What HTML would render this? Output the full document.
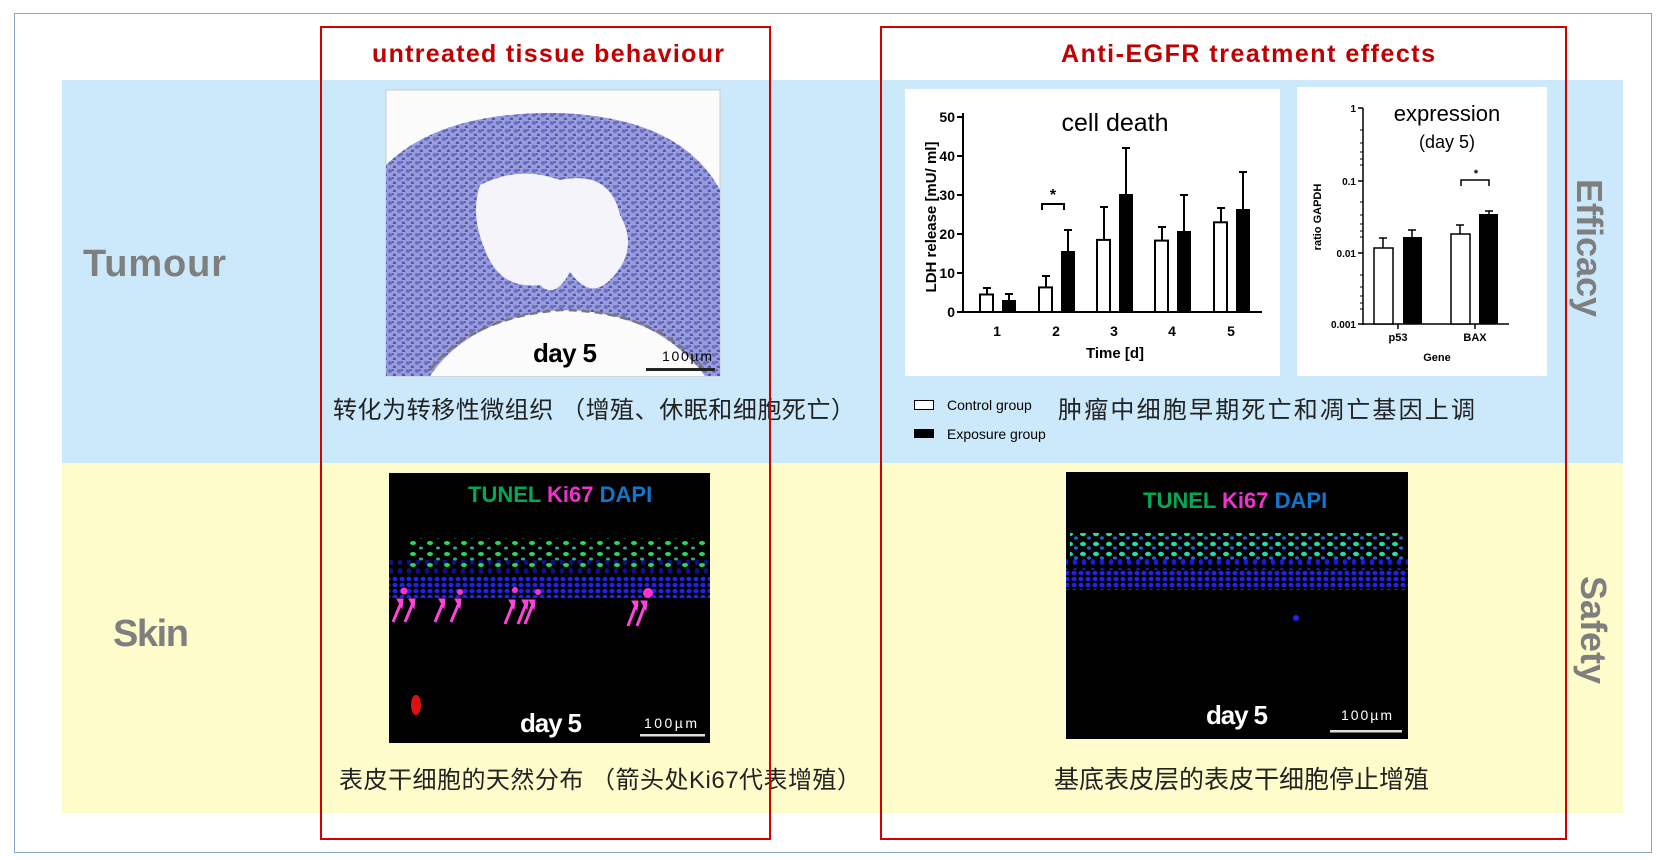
<!DOCTYPE html>
<html><head><meta charset="utf-8"><style>
html,body{margin:0;padding:0;background:#fff;}
svg{display:block;}
</style></head><body>
<svg width="1661" height="860" viewBox="0 0 1661 860" xmlns="http://www.w3.org/2000/svg" font-family="Liberation Sans, Noto Sans CJK SC, sans-serif">
<defs>
<pattern id="cells" width="9" height="8" patternUnits="userSpaceOnUse">
<rect width="9" height="8" fill="#9a9ddb"/>
<ellipse cx="3" cy="3" rx="2.4" ry="2" fill="#6a6ec4"/>
<ellipse cx="7.5" cy="7" rx="1.8" ry="1.5" fill="#5558b0"/>
<circle cx="6" cy="2" r="0.8" fill="#2a2a70"/>
</pattern>
<pattern id="dapi" width="7" height="6" patternUnits="userSpaceOnUse">
<rect width="7" height="6" fill="#000"/>
<ellipse cx="3" cy="3" rx="2.6" ry="2.2" fill="#2222ee"/>
</pattern>
<pattern id="dapi2" width="9" height="9" patternUnits="userSpaceOnUse">
<rect width="9" height="9" fill="#000"/>
<ellipse cx="4" cy="4" rx="2.4" ry="3" fill="#1a1ad8"/>
</pattern>
<pattern id="tunel" width="17" height="11" patternUnits="userSpaceOnUse">
<ellipse cx="5" cy="4" rx="3" ry="2" fill="#22dd55"/>
<ellipse cx="13" cy="9" rx="2" ry="1.5" fill="#33aa88"/>
</pattern>
<pattern id="tunel2" width="13" height="10" patternUnits="userSpaceOnUse">
<ellipse cx="4" cy="4" rx="3" ry="2.2" fill="#22ddaa"/>
<ellipse cx="10" cy="8" rx="2" ry="1.6" fill="#2266dd"/>
</pattern>
</defs>

<rect x="14.5" y="13.5" width="1637" height="839" fill="#fff" stroke="#8aa4c4" stroke-width="1"/>
<rect x="62" y="80" width="1561" height="383" fill="#cce9fb"/>
<rect x="62" y="463" width="1561" height="350" fill="#fffccb"/>

<text x="83" y="276" font-size="38" font-weight="bold" fill="#7f7f7f" textLength="143">Tumour</text>
<text x="113" y="646" font-size="38" font-weight="bold" fill="#7f7f7f" textLength="76">Skin</text>
<text transform="translate(1577,248) rotate(90)" text-anchor="middle" font-size="36" font-weight="bold" fill="#7f7f7f">Efficacy</text>
<text transform="translate(1581,630) rotate(90)" text-anchor="middle" font-size="36" font-weight="bold" fill="#7f7f7f">Safety</text>

<text x="372" y="62" font-size="25" font-weight="bold" fill="#c00000" textLength="352">untreated tissue behaviour</text>
<text x="1061" y="62" font-size="25" font-weight="bold" fill="#c00000" textLength="374">Anti-EGFR treatment effects</text>

<rect x="386" y="90" width="334" height="286" fill="#fbfbfb" stroke="#ccc"/>
<path d="M386,376 L386,165 Q440,112 555,113 Q680,116 720,190 L720,376 Z" fill="url(#cells)"/>
<path d="M480,185 Q520,165 560,180 Q610,170 620,215 Q640,250 610,280 Q590,300 570,272 Q555,300 540,285 Q500,290 485,250 Q470,215 480,185 Z" fill="#f4f4fa"/>
<path d="M430,376 Q470,318 560,310 Q655,310 705,376 Z" fill="#fbfbfb"/>
<path d="M430,370 Q470,318 560,310 Q655,310 705,370" fill="none" stroke="#777" stroke-width="2.5" stroke-dasharray="8,5"/>
<text x="533" y="362" font-size="26" font-weight="bold" fill="#000" textLength="64">day 5</text>
<text x="662" y="361" font-size="14" fill="#000" textLength="50">100µm</text>
<rect x="646" y="368" width="69" height="3" fill="#222"/>

<text x="333" y="418" font-size="24" fill="#222" textLength="522">转化为转移性微组织 （增殖、休眠和细胞死亡）</text>

<rect x="905" y="89" width="375" height="287" fill="#fff"/>
<g font-weight="bold" font-size="14" fill="#000">
<line x1="963" y1="113" x2="963" y2="313" stroke="#000" stroke-width="2"/>
<line x1="962" y1="312" x2="1262" y2="312" stroke="#000" stroke-width="2"/>
<g stroke="#000" stroke-width="2">
<line x1="957" y1="117" x2="963" y2="117"/><line x1="957" y1="156" x2="963" y2="156"/><line x1="957" y1="195" x2="963" y2="195"/><line x1="957" y1="234" x2="963" y2="234"/><line x1="957" y1="273" x2="963" y2="273"/><line x1="957" y1="312" x2="963" y2="312"/>
</g>
<g text-anchor="end">
<text x="955" y="122">50</text><text x="955" y="161">40</text><text x="955" y="200">30</text><text x="955" y="239">20</text><text x="955" y="278">10</text><text x="955" y="317">0</text>
</g>
<g text-anchor="middle">
<text x="997" y="336">1</text><text x="1056" y="336">2</text><text x="1114" y="336">3</text><text x="1172" y="336">4</text><text x="1231" y="336">5</text>
<text x="1115" y="358" font-size="15">Time [d]</text>
</g>
<text transform="translate(936,217) rotate(-90)" text-anchor="middle" font-size="15">LDH release [mU/ ml]</text>
</g>
<text x="1115" y="131" text-anchor="middle" font-size="25" fill="#000">cell death</text>
<g stroke="#000" stroke-width="2" fill="#fff">
<path d="M987,294 V288 M983,288 H991 M1046,287 V276 M1042,276 H1050 M1104,240 V207 M1100,207 H1108 M1162,241 V227 M1158,227 H1166 M1221,222 V208 M1217,208 H1225"/>
<path d="M1009,300 V294 M1005,294 H1013 M1068,251 V230 M1064,230 H1072 M1126,194 V148 M1122,148 H1130 M1184,231 V195 M1180,195 H1188 M1243,209 V172 M1239,172 H1247"/>
<rect x="980" y="294.5" width="13" height="17.5"/>
<rect x="1039" y="287.4" width="13" height="24.6"/>
<rect x="1097" y="239.9" width="13" height="72.1"/>
<rect x="1155" y="240.6" width="13" height="71.4"/>
<rect x="1214" y="222.3" width="13" height="89.7"/>
</g>
<g fill="#000">
<rect x="1002" y="300" width="14" height="12"/>
<rect x="1061" y="251" width="14" height="61"/>
<rect x="1119" y="194" width="14" height="118"/>
<rect x="1177" y="231" width="14" height="81"/>
<rect x="1236" y="209" width="14" height="103"/>
</g>
<path d="M1042,210 V204 H1064 V210" fill="none" stroke="#000" stroke-width="2"/>
<text x="1053" y="200" text-anchor="middle" font-size="16" font-weight="bold">*</text>

<rect x="1297" y="87" width="250" height="289" fill="#fff"/>
<g stroke="#000" stroke-width="1.5">
<line x1="1363" y1="108" x2="1363" y2="325"/>
<line x1="1362" y1="324" x2="1509" y2="324"/>
<path d="M1358,108 H1363 M1358,181 H1363 M1358,253 H1363 M1358,324 H1363 M1398,324 V329 M1475,324 V329"/>
<path d="M1360,130 H1363 M1360,143 H1363 M1360,152 H1363 M1360,159 H1363 M1360,165 H1363 M1360,202 H1363 M1360,215 H1363 M1360,224 H1363 M1360,231 H1363 M1360,237 H1363 M1360,275 H1363 M1360,287 H1363 M1360,296 H1363 M1360,303 H1363 M1360,309 H1363" stroke-width="1"/>
</g>
<g font-weight="bold" font-size="10" fill="#000" text-anchor="end">
<text x="1356" y="112">1</text><text x="1356" y="185">0.1</text><text x="1356" y="257">0.01</text><text x="1356" y="328">0.001</text>
</g>
<g font-weight="bold" font-size="11" fill="#000" text-anchor="middle">
<text x="1398" y="341">p53</text><text x="1475" y="341">BAX</text><text x="1437" y="361">Gene</text>
<text transform="translate(1321,217) rotate(-90)">ratio GAPDH</text>
</g>
<text x="1447" y="121" text-anchor="middle" font-size="22" fill="#000">expression</text>
<text x="1447" y="148" text-anchor="middle" font-size="18" fill="#000">(day 5)</text>
<g stroke="#000" stroke-width="1.5" fill="#fff">
<path d="M1383,248 V238 M1379,238 H1387 M1412,237 V230 M1408,230 H1416 M1460,234 V225 M1456,225 H1464 M1489,214 V211 M1485,211 H1493"/>
<rect x="1374" y="248" width="19" height="76"/>
<rect x="1451" y="234" width="19" height="90"/>
</g>
<rect x="1403" y="237" width="19" height="87" fill="#000"/>
<rect x="1479" y="214" width="19" height="110" fill="#000"/>
<path d="M1461,186 V180 H1489 V186" fill="none" stroke="#000" stroke-width="1.5"/>
<text x="1476" y="177" text-anchor="middle" font-size="11" font-weight="bold">*</text>

<rect x="914.5" y="400.5" width="19" height="9" fill="#fff" stroke="#000"/>
<text x="947" y="410" font-size="14" fill="#000">Control group</text>
<rect x="914" y="429" width="20" height="9" fill="#000"/>
<text x="947" y="439" font-size="14" fill="#000">Exposure group</text>
<text x="1058" y="418" font-size="24" fill="#222" textLength="417">肿瘤中细胞早期死亡和凋亡基因上调</text>

<rect x="389" y="473" width="321" height="270" fill="#000"/>
<rect x="389" y="575" width="321" height="23" fill="url(#dapi)"/>
<rect x="389" y="560" width="321" height="15" fill="url(#dapi2)" opacity="0.6"/>
<rect x="410" y="538" width="295" height="30" fill="url(#tunel)"/>
<g fill="#ff33cc">
<circle cx="404" cy="591" r="3.5"/><circle cx="460" cy="592" r="3"/><circle cx="515" cy="590" r="3"/><circle cx="538" cy="592" r="3"/><circle cx="648" cy="593" r="5"/>
</g>
<g stroke="#ff44dd" stroke-width="3" fill="#ff44dd">
<line x1="393" y1="622" x2="401" y2="603"/><line x1="405" y1="622" x2="413" y2="603"/>
<line x1="435" y1="622" x2="443" y2="603"/><line x1="451" y1="622" x2="459" y2="603"/>
<line x1="505" y1="624" x2="513" y2="604"/><line x1="518" y1="624" x2="526" y2="604"/><line x1="525" y1="624" x2="533" y2="604"/>
<line x1="628" y1="626" x2="636" y2="605"/><line x1="637" y1="626" x2="645" y2="605"/>
<path d="M397,599 l6,0 l-1,9 z M409,599 l6,0 l-1,9 z M439,599 l6,0 l-1,9 z M455,599 l6,0 l-1,9 z M509,600 l6,0 l-1,9 z M522,600 l6,0 l-1,9 z M529,600 l6,0 l-1,9 z M632,601 l6,0 l-1,9 z M641,601 l6,0 l-1,9 z" stroke-width="1"/>
</g>
<ellipse cx="416" cy="705" rx="5" ry="10" fill="#dd1111"/>
<text x="468" y="502" font-size="22" font-weight="bold" fill="#00aa55">TUNEL <tspan fill="#ee33cc">Ki67</tspan> <tspan fill="#1177cc">DAPI</tspan></text>
<text x="520" y="732" font-size="26" font-weight="bold" fill="#fff" textLength="62">day 5</text>
<text x="644" y="728" font-size="14" fill="#fff" textLength="53">100µm</text>
<rect x="640" y="734" width="65" height="2.5" fill="#ddd"/>
<text x="339" y="788" font-size="24" fill="#222" textLength="522">表皮干细胞的天然分布 （箭头处Ki67代表增殖）</text>

<rect x="1066" y="472" width="342" height="267" fill="#000"/>
<rect x="1066" y="558" width="342" height="22" fill="url(#dapi2)"/>
<rect x="1066" y="570" width="342" height="20" fill="url(#dapi)"/>
<rect x="1070" y="533" width="335" height="28" fill="url(#tunel2)"/>
<circle cx="1296" cy="618" r="3" fill="#2222ee"/>
<text x="1143" y="508" font-size="22" font-weight="bold" fill="#00aa55">TUNEL <tspan fill="#ee33cc">Ki67</tspan> <tspan fill="#1177cc">DAPI</tspan></text>
<text x="1206" y="724" font-size="26" font-weight="bold" fill="#fff" textLength="62">day 5</text>
<text x="1341" y="720" font-size="14" fill="#fff" textLength="51">100µm</text>
<rect x="1330" y="730" width="72" height="2.5" fill="#ddd"/>
<text x="1054" y="788" font-size="25" fill="#222" textLength="375">基底表皮层的表皮干细胞停止增殖</text>

<rect x="321" y="27" width="449" height="812" fill="none" stroke="#d40000" stroke-width="2"/>
<rect x="881" y="27" width="685" height="812" fill="none" stroke="#d40000" stroke-width="2"/>
</svg>
</body></html>
